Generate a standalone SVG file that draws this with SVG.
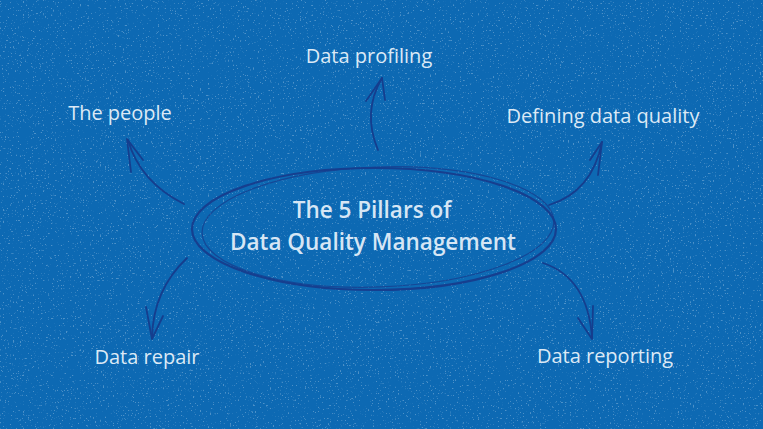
<svg xmlns="http://www.w3.org/2000/svg" width="763" height="429" viewBox="0 0 763 429">
<style>
.lbl{font-family:"Open Sans","Noto Sans",sans-serif;font-size:20px;fill:#dce9f6;text-anchor:middle}
.ttl{font-family:"Open Sans","Noto Sans",sans-serif;font-size:22.5px;font-weight:600;fill:#d6e6f5;text-anchor:middle}
.arr{fill:none;stroke:#153e8e;stroke-width:1.8;stroke-linecap:round;stroke-linejoin:round}
.ell{fill:none;stroke:#163f8f;stroke-linecap:round}
</style>
<defs>
<filter id="speck" x="0" y="0" width="100%" height="100%">
<feTurbulence type="fractalNoise" baseFrequency="0.6" numOctaves="2" seed="3" result="n"/>
<feColorMatrix in="n" type="matrix" values="0 0 0 0 0.75  0 0 0 0 0.85  0 0 0 0 0.95  0 0 0 10 -6.6"/>
</filter>
</defs>
<rect width="763" height="429" fill="#0d69b3"/>
<rect width="763" height="429" filter="url(#speck)" opacity="0.3"/>
<g id="center">
<ellipse class="ell" cx="374" cy="229" rx="182" ry="61" stroke-width="2.2"/>
<ellipse class="ell" cx="378" cy="227" rx="176" ry="60" stroke-width="1.2" transform="rotate(-2 378 227)" opacity="0.8"/>
<text class="ttl" x="372" y="218">The 5 Pillars of</text>
<text class="ttl" x="373" y="250">Data Quality Management</text>
</g>
<g id="connectors">
<path class="arr" d="M184,204 Q140,182 128,140"/>
<path class="arr" d="M131,172 L127,139 L143,160"/>
<path class="arr" d="M378,150 Q362,112 382,78"/>
<path class="arr" d="M366,101 L382,78 L385,100"/>
<path class="arr" d="M549,205 Q592,192 602,142"/>
<path class="arr" d="M590,160 L602,142 L598,175"/>
<path class="arr" d="M187,258 Q153,290 152,338"/>
<path class="arr" d="M146,307 L152,339 L163,316"/>
<path class="arr" d="M543,263 Q588,278 592,338"/>
<path class="arr" d="M578,318 L592,339 L593,306"/>
</g>
<g id="people"><text class="lbl" x="120" y="120">The people</text></g>
<g id="profiling"><text class="lbl" x="369" y="63">Data profiling</text></g>
<g id="defining"><text class="lbl" x="603" y="123">Defining data quality</text></g>
<g id="repair"><text class="lbl" x="147" y="364">Data repair</text></g>
<g id="reporting"><text class="lbl" x="605" y="363">Data reporting</text></g>
</svg>
